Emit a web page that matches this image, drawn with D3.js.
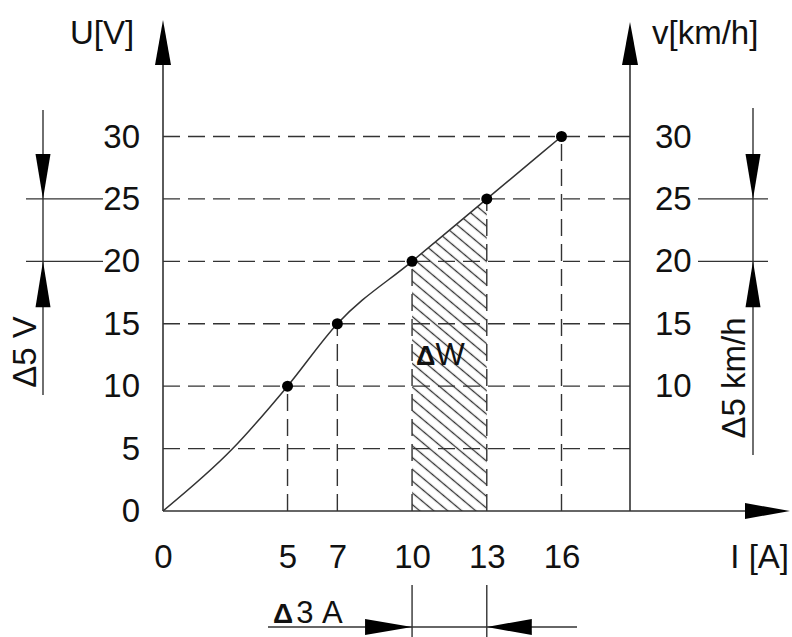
<!DOCTYPE html>
<html>
<head>
<meta charset="utf-8">
<script src="https://cdn.jsdelivr.net/npm/d3@7"></script>
<style>
  html, body { margin: 0; padding: 0; background: #fff; }
  svg { display: block; }
  text { font-family: "Liberation Sans", Arial, sans-serif; fill: #111; }
</style>
</head>
<body>
<script>
// ---- data ----
const currentTicks = [0, 5, 7, 10, 13, 16];          // I [A] tick labels
const voltageTicks = [0, 5, 10, 15, 20, 25, 30];     // U[V] tick labels
const speedTicks = [10, 15, 20, 25, 30];             // v[km/h] tick labels
const gridU = [5, 10, 15, 20, 25, 30];               // dashed horizontal lines
const pointI = [5, 7, 10, 13, 16];                   // measured points (current)
const pointU = [10, 15, 20, 25, 30];                 // measured points (voltage)
const curveI = [0, 2.8, 5, 7, 10, 13, 16];           // curve trace (current)
const curveU = [0, 5, 10, 15, 20, 25, 30];           // curve trace (voltage)
const hatchI = [10, 13];                             // ΔW region
const dimU = [20, 25];                               // Δ5 V / Δ5 km/h
const dimI = [10, 13];                               // Δ3 A

// ---- layout ----
const W = 792, H = 637;
const svg = d3.select("body").append("svg").attr("width", W).attr("height", H);
const x = d3.scaleLinear().domain([0, 16]).range([163, 561.5]);
const y = d3.scaleLinear().domain([0, 30]).range([511, 136.5]);
const xRightAxis = 630, xAxisEnd = 790, yAxisTop = 20;
const lineCol = "#333";
const dash = "17,8";
const fs = 33;

function arrow(tipX, tipY, dir, len, half) {
  let pts;
  if (dir === "up") pts = [[tipX, tipY], [tipX - half, tipY + len], [tipX + half, tipY + len]];
  if (dir === "down") pts = [[tipX, tipY], [tipX - half, tipY - len], [tipX + half, tipY - len]];
  if (dir === "right") pts = [[tipX, tipY], [tipX - len, tipY - half], [tipX - len, tipY + half]];
  if (dir === "left") pts = [[tipX, tipY], [tipX + len, tipY - half], [tipX + len, tipY + half]];
  svg.append("path").attr("d", "M" + pts.map(p => p.join(",")).join("L") + "Z").attr("fill", "#000");
}
function line(x1, y1, x2, y2, opts = {}) {
  return svg.append("line").attr("x1", x1).attr("y1", y1).attr("x2", x2).attr("y2", y2)
    .attr("stroke", lineCol).attr("stroke-width", opts.w || 1.4)
    .attr("stroke-dasharray", opts.dash || null);
}

// ---- hatch pattern ----
const defs = svg.append("defs");
const pat = defs.append("pattern").attr("id", "hatch").attr("patternUnits", "userSpaceOnUse")
  .attr("width", 20).attr("height", 9).attr("patternTransform", "rotate(40)");
pat.append("line").attr("x1", 0).attr("y1", 4.5).attr("x2", 20).attr("y2", 4.5)
  .attr("stroke", lineCol).attr("stroke-width", 1.3);

const curvePts = curveI.map((v, i) => [v, curveU[i]]);
const hatchPts = curvePts.filter(p => p[0] >= hatchI[0] && p[0] <= hatchI[1]);
svg.append("path")
  .attr("d", d3.area().x(d => x(d[0])).y0(y(0)).y1(d => y(d[1]))(hatchPts))
  .attr("fill", "url(#hatch)");

// ---- dashed grid ----
gridU.forEach(u => line(x(0), y(u), xRightAxis, y(u), { dash }));
pointI.forEach((v, i) => line(x(v), y(0), x(v), y(pointU[i]), { dash }));

// ---- axes lines with arrows ----
line(x(0), y(0), x(0), yAxisTop + 30, { w: 1.6 });
arrow(x(0), yAxisTop, "up", 45, 8);
line(xRightAxis, y(0), xRightAxis, yAxisTop + 30, { w: 1.6 });
arrow(xRightAxis, yAxisTop + 2, "up", 43, 8);
line(x(0), y(0), xAxisEnd - 30, y(0), { w: 1.6 });
arrow(xAxisEnd, y(0), "right", 45, 8);

// ---- axis labels via d3 axes ----
function styleAxis(g) {
  g.select(".domain").remove();
  g.selectAll("text").attr("font-size", fs).attr("font-family", "Liberation Sans, Arial, sans-serif").attr("fill", "#111");
}
svg.append("g").attr("transform", `translate(${x(0)},0)`)
  .call(d3.axisLeft(y).tickValues(voltageTicks).tickSize(0).tickPadding(23).tickFormat(d3.format("d")))
  .call(styleAxis);
svg.append("g").attr("transform", `translate(${xRightAxis},0)`)
  .call(d3.axisRight(y).tickValues(speedTicks).tickSize(0).tickPadding(25).tickFormat(d3.format("d")))
  .call(styleAxis);
svg.append("g").attr("transform", `translate(0,${y(0)})`)
  .call(d3.axisBottom(x).tickValues(currentTicks).tickSize(0).tickPadding(34).tickFormat(d3.format("d")))
  .call(styleAxis);

svg.append("text").attr("x", 70).attr("y", 44).attr("font-size", fs).text("U[V]");
svg.append("text").attr("x", 652).attr("y", 44).attr("font-size", fs).text("v[km/h]");
svg.append("text").attr("x", 789).attr("y", 568).attr("text-anchor", "end").attr("font-size", fs).text("I [A]");

// ---- curve and points ----
svg.append("path")
  .attr("d", d3.line().x(d => x(d[0])).y(d => y(d[1])).curve(d3.curveMonotoneX)(curvePts))
  .attr("fill", "none").attr("stroke", lineCol).attr("stroke-width", 1.5);
svg.selectAll("circle.pt").data(pointI.map((v, i) => [v, pointU[i]])).enter()
  .append("circle").attr("class", "pt").attr("cx", d => x(d[0])).attr("cy", d => y(d[1]))
  .attr("r", 5.5).attr("fill", "#000");

// ΔW label
const dw = svg.append("text").attr("x", 416).attr("y", 365).attr("font-size", 31);
dw.append("tspan").attr("font-size", 27).attr("font-weight", "bold").text("Δ");
dw.append("tspan").text("W");

// ---- left dimension Δ5 V ----
const dl = 43;
line(26, y(dimU[1]), 103, y(dimU[1]));
line(26, y(dimU[0]), 103, y(dimU[0]));
line(dl, 110, dl, 395);
arrow(dl, y(dimU[1]), "down", 45, 7.5);
arrow(dl, y(dimU[0]), "up", 46, 7.5);
svg.append("text").attr("transform", `translate(36,352) rotate(-90)`).attr("text-anchor", "middle")
  .attr("font-size", fs).text("Δ5 V");

// ---- right dimension Δ5 km/h ----
const dr = 753;
line(698, y(dimU[1]), 768, y(dimU[1]));
line(698, y(dimU[0]), 768, y(dimU[0]));
line(dr, 108, dr, 455);
arrow(dr, y(dimU[1]), "down", 45, 7.5);
arrow(dr, y(dimU[0]), "up", 46, 7.5);
svg.append("text").attr("transform", `translate(745,378) rotate(-90)`).attr("text-anchor", "middle")
  .attr("font-size", fs).text("Δ5 km/h");

// ---- bottom dimension Δ3 A ----
const db = 627;
line(x(dimI[0]), 585, x(dimI[0]), H);
line(x(dimI[1]), 585, x(dimI[1]), H);
line(268, db, 577, db);
arrow(x(dimI[0]), db, "right", 47, 8);
arrow(x(dimI[1]), db, "left", 45, 8);
const d3a = svg.append("text").attr("x", 273).attr("y", 623).attr("font-size", 31);
d3a.append("tspan").attr("font-size", 28).attr("font-weight", "bold").text("Δ");
d3a.append("tspan").attr("dx", 3).text("3 A");
</script>
</body>
</html>
